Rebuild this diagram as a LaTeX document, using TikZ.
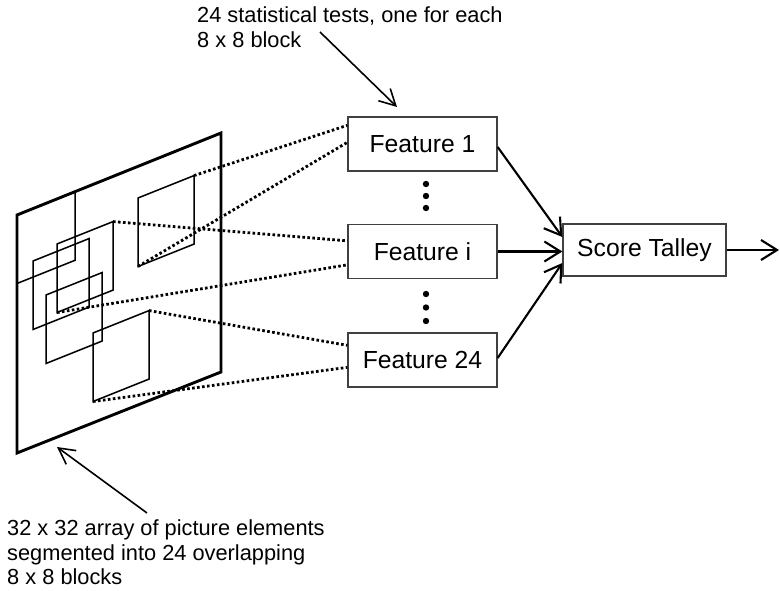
\documentclass[tikz,border=0pt]{standalone}
\usepackage{fontspec}
\setmainfont{Liberation Sans}
\usetikzlibrary{arrows.meta,calc}
\newcommand\pblock[4]{%
  \coordinate (#1-tl) at (#2,#3);
  \coordinate (#1-tr) at (#2+#4,#3-0.4*#4);
  \coordinate (#1-br) at (#2+#4,#3-0.4*#4+68.5);
  \coordinate (#1-bl) at (#2,#3+68.5);
  \draw[blockline] (#1-tl) -- (#1-tr) -- (#1-br) -- (#1-bl) -- cycle;}
\tikzset{
  blockline/.style={line width=1.5pt, line join=miter},
  frameline/.style={line width=2.9pt, line join=miter},
  dots/.style={line width=2.8pt, dash pattern=on 2.6pt off 2.4pt},
  fbox/.style={draw=black!75, line width=1.3pt, minimum width=149pt, minimum height=54pt, inner sep=0pt, font=\fontsize{24.7}{28}\selectfont},
  arr/.style={line width=2.1pt, -{Straight Barb[length=16pt,width=20pt]}},
  note/.style={align=left, inner sep=0pt, font=\fontsize{21.8}{24.4}\selectfont},
  notearr/.style={line width=1.6pt, -{Straight Barb[length=16pt,width=17pt]}},
}
\begin{document}
\begin{tikzpicture}[x=1pt,y=-1pt]
\useasboundingbox (0,0) rectangle (780,591);
% outer array
\coordinate (o-tl) at (17,215);
\coordinate (o-tr) at (221,133);
\coordinate (o-br) at (221,372);
\coordinate (o-bl) at (17,453);
\draw[frameline] (o-tl) -- (o-tr) -- (o-br) -- (o-bl) -- cycle;
% blocks
\pblock{A}{138}{198}{56}
\pblock{B}{17}{215}{58}
\pblock{C}{33}{261}{56}
\pblock{D}{57}{244}{56}
\pblock{E}{46}{295}{56}
\pblock{F}{93}{333}{56}
% feature boxes
\node[fbox] (f1) at (422.5,144) {Feature 1};
\node[fbox] (fi) at (422.5,251.5) {Feature i};
\node[fbox] (f24) at (422.5,360) {Feature 24};
\node[fbox, minimum width=163pt, minimum height=52pt] (st) at (644.5,250) {Score Talley};
% vertical ellipses
\foreach \y in {184,196,208,294,307.5,321} \fill (426,\y) circle (3.2pt);
% dotted connections
\coordinate (f1a) at ([yshift=-9pt]f1.north west);
\coordinate (f1b) at ([yshift=-26pt]f1.north west);
\coordinate (fia) at ([yshift=-17pt]fi.north west);
\coordinate (fib) at ([yshift=-41pt]fi.north west);
\coordinate (f24a) at ([yshift=-13pt]f24.north west);
\coordinate (f24b) at ([yshift=-35pt]f24.north west);
\draw[dots] (A-tr) -- (f1a);
\draw[dots] (A-bl) -- (f1b);
\draw[dots] (D-tr) -- (fia);
\draw[dots] (D-bl) -- (fib);
\draw[dots] (F-tr) -- (f24a);
\draw[dots] (F-bl) -- (f24b);
% arrows to score talley
\draw[arr] ([yshift=-3pt]f1.east) -- ([yshift=13pt]st.west);
\draw[arr] (fi.east) -- (fi.east -| st.west);
\draw[arr] ([yshift=2pt]f24.east) -- ([yshift=-13pt]st.west);
\coordinate (out) at (779,250);
\draw[arr] (st.east) -- (out);
% annotations
\node[note, anchor=north west] (topnote) at (197,7) {24 statistical tests, one for each\\8 x 8 block};
\node[note, anchor=north west] (botnote) at (7,520) {32 x 32 array of picture elements\\segmented into 24 overlapping\\8 x 8 blocks};
\coordinate (ta) at (320,32);
\coordinate (tb) at (397,107);
\draw[notearr] (ta) -- (tb);
\coordinate (ba) at (147,513);
\coordinate (bb) at (57,447);
\draw[notearr] (ba) -- (bb);
\end{tikzpicture}
\end{document}
